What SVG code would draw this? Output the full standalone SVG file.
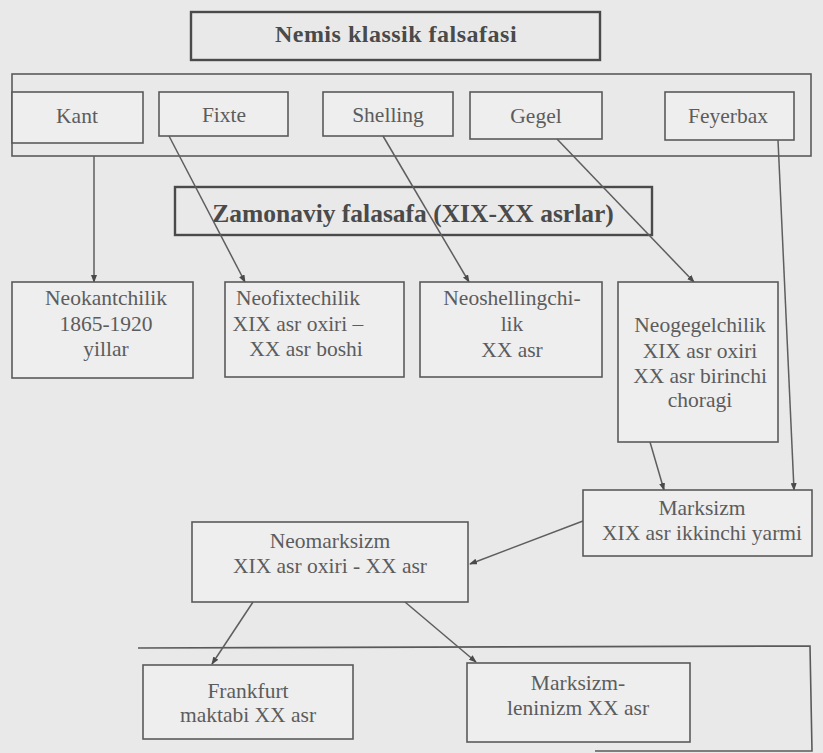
<svg xmlns="http://www.w3.org/2000/svg" width="823" height="753" viewBox="0 0 823 753">
<defs>
<style>
.bg{fill:#e9e9e9}
.box{fill:#eeeeee;stroke:#5a5a5a;stroke-width:1.6}
.frame{fill:none;stroke:#5a5a5a;stroke-width:1.6}
.bold{fill:none;stroke:#4a4a4a;stroke-width:2.4}
.lbl{font-family:'Liberation Serif',serif !important;font-size:21.5px;fill:#5c5c5c;text-anchor:middle}
.ttl{font-family:'Liberation Serif',serif !important;font-weight:bold;fill:#4a4a4a;text-anchor:middle}
.c{fill:none;stroke:#5e5e5e;stroke-width:1.5;marker-end:url(#ah)}
</style>
<marker id="ah" markerUnits="userSpaceOnUse" markerWidth="8" markerHeight="6" refX="7" refY="3" orient="auto">
<path d="M0,0 L8,3 L0,6 z" fill="#4a4a4a"/>
</marker>
</defs>
<rect class="bg" x="0" y="0" width="823" height="753"/>

<g id="top-frame"><rect class="frame" x="12" y="74" width="799" height="82"/></g>
<g id="bottom-frame"><path class="frame" d="M138,648 L810,646 L812,751 L595,751"/></g>

<g id="title"><rect class="bold" x="191" y="12" width="409" height="48"/>
<text class="ttl" style="font-family:'Liberation Serif',serif" x="396" y="42" font-size="24" letter-spacing="0.5">Nemis klassik falsafasi</text></g>

<g id="kant"><rect class="box" x="12" y="92" width="131" height="51"/><text class="lbl" style="font-family:'Liberation Serif',serif" x="77" y="123">Kant</text></g>
<g id="fixte"><rect class="box" x="159" y="92" width="129" height="44"/><text class="lbl" style="font-family:'Liberation Serif',serif" x="224" y="122">Fixte</text></g>
<g id="shelling"><rect class="box" x="323" y="92" width="130" height="44"/><text class="lbl" style="font-family:'Liberation Serif',serif" x="388" y="122">Shelling</text></g>
<g id="gegel"><rect class="box" x="470" y="92" width="132" height="47"/><text class="lbl" style="font-family:'Liberation Serif',serif" x="536" y="123">Gegel</text></g>
<g id="feyerbax"><rect class="box" x="665" y="92" width="129" height="48"/><text class="lbl" style="font-family:'Liberation Serif',serif" x="728" y="123">Feyerbax</text></g>

<g id="zamonaviy"><rect class="bold" x="175" y="187" width="477" height="48"/>
<text class="ttl" style="font-family:'Liberation Serif',serif" x="413" y="222" font-size="25.5">Zamonaviy falasafa (XIX-XX asrlar)</text></g>

<g id="connectors">
<path class="c" d="M94,156 L94,282"/>
<path class="c" d="M169,136 L245,282"/>
<path class="c" d="M383,136 L469,282"/>
<path class="c" d="M557,139 L694,282"/>
<path class="c" d="M778,140 L794,490"/>
<path class="c" d="M650,442 L664,490"/>
<path class="c" d="M583,521 L470,564"/>
<path class="c" d="M253,602 L212,664"/>
<path class="c" d="M405,602 L476,662"/>
</g>

<g id="neokantchilik"><rect class="box" x="12" y="282" width="181" height="96"/>
<text class="lbl" style="font-family:'Liberation Serif',serif" x="106" y="305">Neokantchilik</text><text class="lbl" style="font-family:'Liberation Serif',serif" x="106" y="331">1865-1920</text><text class="lbl" style="font-family:'Liberation Serif',serif" x="106" y="356">yillar</text></g>

<g id="neofixtechilik"><rect class="box" x="225" y="282" width="179" height="95"/>
<text class="lbl" style="font-family:'Liberation Serif',serif" x="298" y="305">Neofixtechilik</text><text class="lbl" style="font-family:'Liberation Serif',serif" x="298" y="331">XIX asr oxiri –</text><text class="lbl" style="font-family:'Liberation Serif',serif" x="306" y="356">XX asr boshi</text></g>

<g id="neoshellingchilik"><rect class="box" x="420" y="282" width="182" height="95"/>
<text class="lbl" style="font-family:'Liberation Serif',serif" x="512" y="305">Neoshellingchi-</text><text class="lbl" style="font-family:'Liberation Serif',serif" x="512" y="331">lik</text><text class="lbl" style="font-family:'Liberation Serif',serif" x="512" y="357">XX asr</text></g>

<g id="neogegelchilik"><rect class="box" x="618" y="282" width="160" height="160"/>
<text class="lbl" style="font-family:'Liberation Serif',serif" x="700" y="332">Neogegelchilik</text><text class="lbl" style="font-family:'Liberation Serif',serif" x="700" y="358">XIX asr oxiri</text><text class="lbl" style="font-family:'Liberation Serif',serif" x="700" y="383">XX asr birinchi</text><text class="lbl" style="font-family:'Liberation Serif',serif" x="700" y="407">choragi</text></g>

<g id="marksizm"><rect class="box" x="583" y="490" width="229" height="66"/>
<text class="lbl" style="font-family:'Liberation Serif',serif" x="702" y="515">Marksizm</text><text class="lbl" style="font-family:'Liberation Serif',serif" x="702" y="540">XIX asr ikkinchi yarmi</text></g>

<g id="neomarksizm"><rect class="box" x="192" y="522" width="276" height="80"/>
<text class="lbl" style="font-family:'Liberation Serif',serif" x="330" y="548">Neomarksizm</text><text class="lbl" style="font-family:'Liberation Serif',serif" x="330" y="573">XIX asr oxiri - XX asr</text></g>

<g id="frankfurt"><rect class="box" x="143" y="665" width="210" height="74"/>
<text class="lbl" style="font-family:'Liberation Serif',serif" x="248" y="698">Frankfurt</text><text class="lbl" style="font-family:'Liberation Serif',serif" x="248" y="722">maktabi XX asr</text></g>

<g id="marksizm-leninizm"><rect class="box" x="467" y="663" width="223" height="79"/>
<text class="lbl" style="font-family:'Liberation Serif',serif" x="578" y="690">Marksizm-</text><text class="lbl" style="font-family:'Liberation Serif',serif" x="578" y="715">leninizm XX asr</text></g>
</svg>
